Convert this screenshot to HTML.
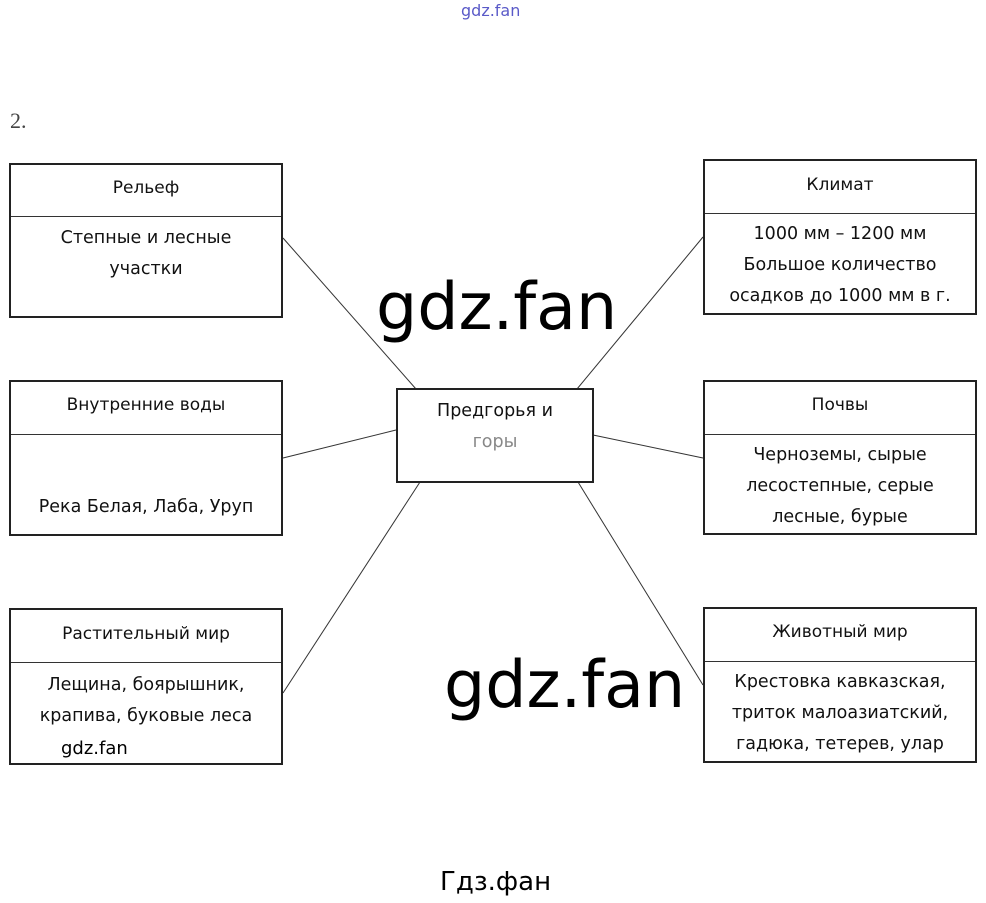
<!DOCTYPE html>
<html><head><meta charset="utf-8"><style>
body{margin:0;width:986px;height:903px;background:#fff;position:relative;overflow:hidden;font-family:"DejaVu Sans","Liberation Sans",sans-serif;}
.b{position:absolute;border:2px solid #222;box-sizing:border-box;background:#fff;}
.h{position:absolute;left:0;right:0;top:0;border-bottom:1px solid #333;text-align:center;font-size:17px;color:#111;}
.t{position:absolute;left:0;right:0;text-align:center;font-size:17.5px;line-height:31px;color:#111;}
.a{position:absolute;white-space:nowrap;}
</style></head><body>
<svg width="986" height="903" style="position:absolute;left:0;top:0">
<g stroke="#333" stroke-width="1">
<line x1="283" y1="238" x2="416" y2="389"/>
<line x1="283" y1="458" x2="396" y2="430"/>
<line x1="283" y1="693" x2="420" y2="482"/>
<line x1="703" y1="237" x2="577" y2="389"/>
<line x1="593" y1="435" x2="703" y2="458"/>
<line x1="703" y1="685" x2="578" y2="482"/>
</g></svg>
<div class="a" style="left:461px;top:1px;font-size:16px;color:#5a5ac8;">gdz.fan</div>
<div class="a" style="left:10px;top:108px;font-size:22px;font-family:'Liberation Serif',serif;color:#444;">2.</div>

<div class="b" style="left:9px;top:163px;width:274px;height:155px;">
<div class="h" style="height:51px;line-height:46px;">Рельеф</div>
<div class="t" style="top:58px;">Степные и лесные<br>участки</div></div>

<div class="b" style="left:9px;top:380px;width:274px;height:156px;">
<div class="h" style="height:52px;line-height:46px;">Внутренние воды</div>
<div class="t" style="top:110px;">Река Белая, Лаба, Уруп</div></div>

<div class="b" style="left:9px;top:608px;width:274px;height:157px;">
<div class="h" style="height:52px;line-height:48px;">Растительный мир</div>
<div class="t" style="top:60px;">Лещина, боярышник,<br>крапива, буковые леса</div>
<div class="a" style="left:50px;top:128px;font-size:18px;color:#000;">gdz.fan</div></div>

<div class="b" style="left:703px;top:159px;width:274px;height:156px;">
<div class="h" style="height:52px;line-height:48px;">Климат</div>
<div class="t" style="top:58px;">1000 мм – 1200 мм<br>Большое количество<br>осадков до 1000 мм в г.</div></div>

<div class="b" style="left:703px;top:380px;width:274px;height:155px;">
<div class="h" style="height:52px;line-height:46px;">Почвы</div>
<div class="t" style="top:58px;">Черноземы, сырые<br>лесостепные, серые<br>лесные, бурые</div></div>

<div class="b" style="left:703px;top:607px;width:274px;height:156px;">
<div class="h" style="height:52px;line-height:46px;">Животный мир</div>
<div class="t" style="top:58px;">Крестовка кавказская,<br>триток малоазиатский,<br>гадюка, тетерев, улар</div></div>

<div class="b" style="left:396px;top:388px;width:198px;height:95px;">
<div class="t" style="top:6px;">Предгорья и<br><span style="color:#888">горы</span></div></div>

<div class="a" style="left:376px;top:270px;font-size:65px;color:#000;">gdz.fan</div>
<div class="a" style="left:444px;top:648px;font-size:65px;color:#000;">gdz.fan</div>
<div class="a" style="left:440px;top:867px;font-size:26px;color:#000;">Гдз.фан</div>
</body></html>
